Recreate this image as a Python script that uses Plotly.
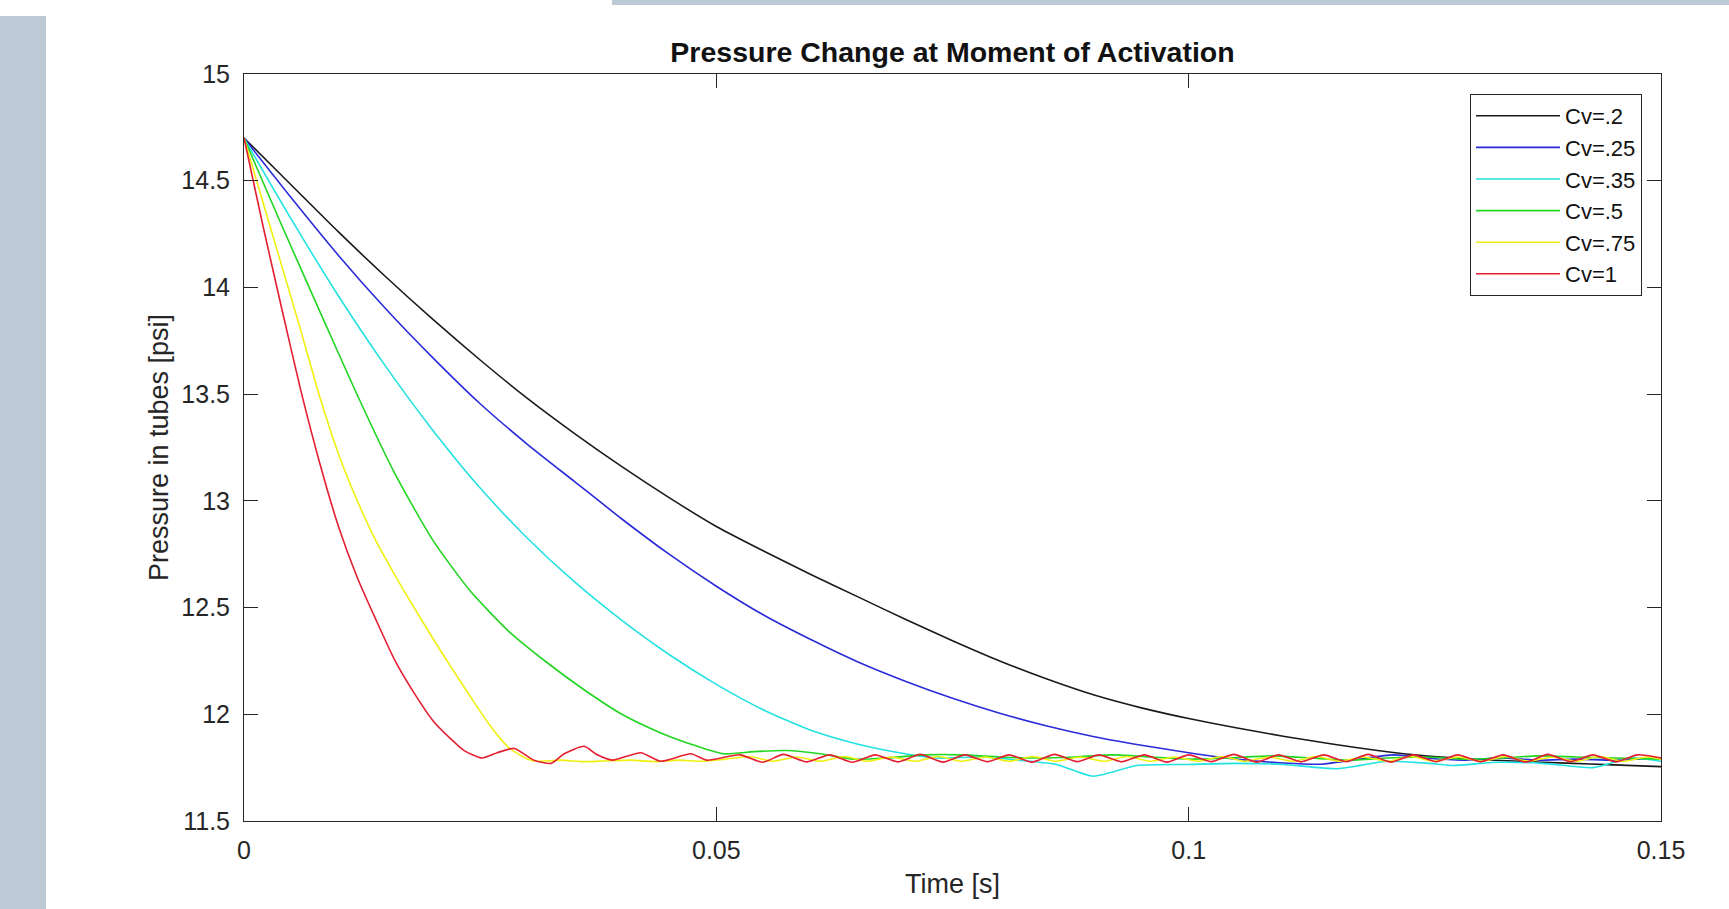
import plotly.graph_objects as go

# ---------------- data ----------------
series_names = ["Cv=.2", "Cv=.25", "Cv=.35", "Cv=.5", "Cv=.75", "Cv=1"]
series_colors = ["#1a1a1a", "#2b2bd9", "#22e2e2", "#22d622", "#f0f010", "#e51e32"]

t_cv02 = [0, 0.005, 0.010, 0.015, 0.020, 0.025, 0.030, 0.035, 0.040, 0.045, 0.050,
          0.055, 0.060, 0.065, 0.070, 0.075, 0.080, 0.085, 0.090, 0.095, 0.100,
          0.105, 0.110, 0.115, 0.120, 0.125, 0.130, 0.135, 0.140, 0.145, 0.150]
p_cv02 = [14.70, 14.48, 14.26, 14.05, 13.85, 13.66, 13.48, 13.315, 13.16, 13.015, 12.88,
          12.765, 12.655, 12.55, 12.445, 12.345, 12.25, 12.165, 12.09, 12.03, 11.98,
          11.937, 11.897, 11.862, 11.83, 11.805, 11.79, 11.78, 11.771, 11.763, 11.755]

t_cv025 = [0, 0.005, 0.010, 0.015, 0.020, 0.025, 0.030, 0.035, 0.040, 0.045, 0.050,
           0.055, 0.060, 0.065, 0.070, 0.075, 0.080, 0.085, 0.090, 0.095, 0.100,
           0.105, 0.110, 0.114, 0.118, 0.1217, 0.125, 0.129, 0.133, 0.137, 0.141, 0.145, 0.150]
p_cv025 = [14.70, 14.42, 14.15, 13.90, 13.67, 13.455, 13.265, 13.09, 12.915, 12.75, 12.60,
           12.465, 12.35, 12.245, 12.155, 12.075, 12.005, 11.945, 11.895, 11.855, 11.82,
           11.79, 11.772, 11.766, 11.79, 11.81, 11.795, 11.785, 11.795, 11.785, 11.79, 11.785, 11.795]

t_cv035 = [0, 0.005, 0.010, 0.015, 0.020, 0.025, 0.030, 0.035, 0.040, 0.045, 0.050,
           0.055, 0.060, 0.065, 0.070, 0.0733, 0.078, 0.082, 0.086, 0.0899, 0.0945,
           0.100, 0.105, 0.110, 0.1158, 0.121, 0.1255, 0.128, 0.1325, 0.1375, 0.1428, 0.1467, 0.150]
p_cv035 = [14.70, 14.32, 13.96, 13.63, 13.33, 13.06, 12.825, 12.62, 12.44, 12.28, 12.14,
           12.02, 11.925, 11.86, 11.815, 11.795, 11.80, 11.785, 11.765, 11.71, 11.76,
           11.765, 11.77, 11.765, 11.745, 11.78, 11.77, 11.76, 11.775, 11.77, 11.75, 11.795, 11.78]

t_cv05 = [0, 0.004, 0.008, 0.012, 0.016, 0.020, 0.024, 0.028, 0.032, 0.036, 0.040,
          0.044, 0.048, 0.0508, 0.054, 0.0574, 0.061, 0.0645, 0.068, 0.072, 0.076,
          0.080, 0.084, 0.088, 0.092, 0.096, 0.100, 0.104, 0.109, 0.113, 0.117,
          0.121, 0.125, 0.129, 0.133, 0.137, 0.141, 0.145, 0.150]
p_cv05 = [14.70, 14.29, 13.89, 13.495, 13.125, 12.815, 12.575, 12.39, 12.245, 12.115, 12.00,
          11.915, 11.85, 11.815, 11.825, 11.83, 11.815, 11.79, 11.795, 11.81, 11.81,
          11.80, 11.795, 11.80, 11.81, 11.80, 11.79, 11.795, 11.805, 11.795, 11.785,
          11.795, 11.80, 11.79, 11.795, 11.805, 11.80, 11.795, 11.79]

t_cv075 = [0, 0.002, 0.004, 0.006, 0.008, 0.010, 0.012, 0.014, 0.016, 0.018, 0.020,
           0.022, 0.024, 0.026, 0.028, 0.030, 0.031, 0.0335, 0.036, 0.0385, 0.041,
           0.0435, 0.046, 0.0485, 0.051, 0.0535, 0.056, 0.0585, 0.061, 0.0635, 0.066,
           0.0685, 0.071, 0.0735, 0.076, 0.0785, 0.081, 0.0835, 0.086, 0.0885, 0.091,
           0.0935, 0.096, 0.0985, 0.101, 0.1035, 0.106, 0.1085, 0.111, 0.1135, 0.116,
           0.1185, 0.121, 0.1235, 0.126, 0.1285, 0.131, 0.1335, 0.136, 0.1385, 0.141,
           0.1435, 0.146, 0.1485, 0.150]
p_cv075 = [14.70, 14.40, 14.10, 13.80, 13.49, 13.22, 13.00, 12.81, 12.65, 12.50, 12.355,
           12.215, 12.08, 11.95, 11.845, 11.79, 11.78, 11.785, 11.778, 11.782, 11.785,
           11.778, 11.785, 11.78, 11.79, 11.802, 11.78, 11.80, 11.78, 11.802, 11.78,
           11.80, 11.78, 11.802, 11.78, 11.80, 11.78, 11.802, 11.78, 11.80, 11.78,
           11.802, 11.78, 11.80, 11.78, 11.802, 11.78, 11.80, 11.78, 11.802, 11.78,
           11.80, 11.78, 11.802, 11.78, 11.80, 11.78, 11.802, 11.78, 11.80, 11.78,
           11.802, 11.78, 11.80, 11.79]

t_cv1 = [0, 0.002, 0.004, 0.006, 0.008, 0.010, 0.012, 0.014, 0.016, 0.018, 0.020,
         0.022, 0.0233, 0.0252, 0.0268, 0.0286, 0.0307, 0.0325, 0.0339, 0.0360, 0.0374,
         0.0390, 0.0420, 0.0441, 0.0473, 0.0490,
         0.0525, 0.0549, 0.0571, 0.0596, 0.0620, 0.0644, 0.0668, 0.0692, 0.0716, 0.0740,
         0.0763, 0.0787, 0.0810, 0.0834, 0.0858, 0.0882, 0.0905, 0.0929, 0.0953, 0.0977,
         0.1000, 0.1024, 0.1048, 0.1072, 0.1095, 0.1119, 0.1143, 0.1167, 0.1190, 0.1214,
         0.1238, 0.1262, 0.1285, 0.1309, 0.1333, 0.1357, 0.1380, 0.1404, 0.1428, 0.1452,
         0.1475, 0.1500]
p_cv1 = [14.70, 14.29, 13.90, 13.52, 13.18, 12.88, 12.64, 12.44, 12.25, 12.10, 11.97,
         11.88, 11.83, 11.795, 11.82, 11.84, 11.785, 11.77, 11.815, 11.85, 11.81,
         11.785, 11.82, 11.78, 11.815, 11.785,
         11.81, 11.775, 11.812, 11.777, 11.81, 11.775, 11.81, 11.777, 11.812, 11.776,
         11.81, 11.778, 11.81, 11.776, 11.812, 11.778, 11.81, 11.777, 11.81, 11.776,
         11.81, 11.778, 11.812, 11.776, 11.81, 11.777, 11.81, 11.778, 11.812, 11.776,
         11.81, 11.778, 11.81, 11.777, 11.81, 11.776, 11.812, 11.778, 11.81, 11.777,
         11.81, 11.795]

times = [t_cv02, t_cv025, t_cv035, t_cv05, t_cv075, t_cv1]
pressures = [p_cv02, p_cv025, p_cv035, p_cv05, p_cv075, p_cv1]

x_ticks = [0, 0.05, 0.1, 0.15]
x_tick_labels = ["0", "0.05", "0.1", "0.15"]
y_ticks = [11.5, 12, 12.5, 13, 13.5, 14, 14.5, 15]
y_tick_labels = ["11.5", "12", "12.5", "13", "13.5", "14", "14.5", "15"]

# ---------------- figure ----------------
W, H = 1729, 909
L, R, T, B = 244, 68, 74, 88
pw, ph = W - L - R, H - T - B

fig = go.Figure()
for name, col, tt, pp in zip(series_names, series_colors, times, pressures):
    assert len(tt) == len(pp), name
    fig.add_trace(go.Scatter(x=tt, y=pp, mode="lines", name=name,
                             line=dict(color=col, width=1.6, shape="spline", smoothing=0.6)))

FONT = "Liberation Sans, Arial, Helvetica, sans-serif"
AX = "#262626"

def px2paper_x(px):
    return (px - L) / pw

def px2paper_y(py):
    return (H - B - py) / ph

# screenshot frame decorations (grey-blue strips)
shapes = [
    dict(type="rect", xref="paper", yref="paper",
         x0=px2paper_x(0), x1=px2paper_x(46), y0=px2paper_y(909), y1=px2paper_y(16),
         fillcolor="#bdc9d5", line=dict(width=0), layer="below"),
    dict(type="rect", xref="paper", yref="paper",
         x0=px2paper_x(612), x1=px2paper_x(1729), y0=px2paper_y(5), y1=px2paper_y(0),
         fillcolor="#bdc9d5", line=dict(width=0), layer="below"),
]

fig.update_layout(
    width=W, height=H,
    margin=dict(l=L, r=R, t=T, b=B, pad=0),
    paper_bgcolor="white", plot_bgcolor="white",
    font=dict(family=FONT, color="#262626", size=25),
    title=dict(text="<b>Pressure Change at Moment of Activation</b>",
               x=0.5, xref="paper", xanchor="center",
               y=1 - 52 / H, yref="container", yanchor="middle",
               font=dict(family=FONT, size=28.5, color="#111111")),
    showlegend=True,
    legend=dict(x=px2paper_x(1642), xanchor="right", y=px2paper_y(94), yanchor="top",
                bgcolor="white", bordercolor=AX, borderwidth=1,
                font=dict(family=FONT, size=22, color="#111111"),
                itemwidth=84, tracegroupgap=0),
    shapes=shapes,
)

fig.update_xaxes(range=[0, 0.15], tickvals=x_ticks, ticktext=x_tick_labels,
                 ticks="inside", ticklen=14, tickwidth=1, tickcolor=AX,
                 showline=True, linecolor=AX, linewidth=1, mirror="ticks",
                 showgrid=False, zeroline=False,
                 tickfont=dict(family=FONT, size=25, color="#262626"),
                 ticklabelstandoff=7,
                 title=dict(text="Time [s]", standoff=11,
                            font=dict(family=FONT, size=27, color="#262626")))
fig.update_yaxes(range=[11.5, 15], tickvals=y_ticks, ticktext=y_tick_labels,
                 ticks="inside", ticklen=14, tickwidth=1, tickcolor=AX,
                 showline=True, linecolor=AX, linewidth=1, mirror="ticks",
                 showgrid=False, zeroline=False,
                 tickfont=dict(family=FONT, size=25, color="#262626"),
                 ticklabelstandoff=8,
                 title=dict(text="Pressure in tubes [psi]", standoff=4,
                            font=dict(family=FONT, size=27, color="#262626")))

fig.write_html("out.html", config={"displayModeBar": False},
               post_script="document.body.style.margin='0';")
